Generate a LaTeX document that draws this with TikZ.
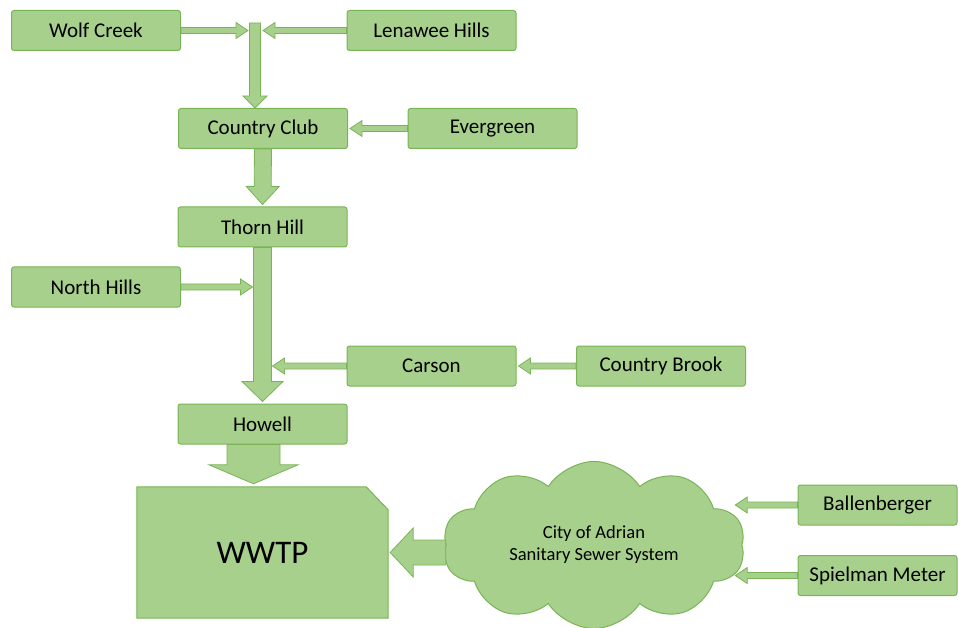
\documentclass[tikz,border=0pt]{standalone}
\usepackage{fontspec}
\setmainfont{Carlito}
\usetikzlibrary{shapes.symbols,backgrounds,calc}

\definecolor{boxfill}{RGB}{168,208,141}
\definecolor{boxline}{RGB}{120,180,85}

% block arrow: from, to, shaft half width, head half width, head length
\newcommand{\flow}[5]{%
  \draw[flowarrow] let \p1=(#1), \p2=(#2),
    \n1={atan2(\y2-\y1,\x2-\x1)}, \n2={veclen(\x2-\x1,\y2-\y1)} in
    {[shift={(\p1)},rotate=\n1]
    (0,#3) -- ({\n2-#5},#3) -- ({\n2-#5},#4) -- (\n2,0)
    -- ({\n2-#5},-#4) -- ({\n2-#5},-#3) -- (0,-#3) -- cycle};}

\begin{document}
\begin{tikzpicture}[
  x=1pt,y=-1pt,
  font=\fontsize{21}{25}\selectfont,
  site/.style={draw=boxline,fill=boxfill,line width=1pt,rounded corners=2.5pt,
               minimum width=169pt,minimum height=40pt,inner sep=0pt},
  flowarrow/.style={draw=boxline,fill=boxfill,line width=0.8pt,line join=miter},
]
\useasboundingbox (0,0) rectangle (958,628);

% ---- metering sites ----
\node[site] (wolf)      at (96,30.5)    {Wolf Creek};
\node[site] (lenawee)   at (431.5,30.5) {Lenawee Hills};
\node[site] (cclub)     at (263,128.5)  {Country Club};
\node[site] (evergreen) at (492.5,128.5){Evergreen};
\node[site] (thorn)     at (262.5,227)  {Thorn Hill};
\node[site] (north)     at (96,287)     {North Hills};
\node[site] (carson)    at (431.5,366)  {Carson};
\node[site] (cbrook)    at (661,366)    {Country Brook};
\node[site] (howell)    at (262.5,424)  {Howell};
\node[site,minimum width=159pt] (ballen) at (877.5,505)   {Ballenberger};
\node[site,minimum width=159pt] (spiel)  at (877.5,575.5) {Spielman Meter};

% ---- city system and the plant ----
\node[cloud,cloud puffs=10,cloud puff arc=115,aspect=1.8,draw=boxline,
      fill=boxfill,line width=1pt,minimum width=302pt,minimum height=166pt,
      align=center,inner sep=0pt,font=\fontsize{18.5}{22}\selectfont]
     (sewer) at (594,545) {City of Adrian\\Sanitary Sewer System};

\node[minimum width=251pt,minimum height=131pt,
      font=\fontsize{33}{40}\selectfont] (wwtp) at (262.5,552.5) {WWTP};
\begin{scope}[on background layer]
  \filldraw[draw=boxline,fill=boxfill,line width=1pt]
    (wwtp.south west) -- (wwtp.north west) -- ([xshift=-22pt]wwtp.north east)
    -- ([yshift=-23pt]wwtp.north east) -- (wwtp.south east) -- cycle;
\end{scope}

% junction points on the trunk line
\coordinate (merge)    at (255,30.5);
\coordinate (mergetop) at (255,23);
\coordinate (trunkL)   at ([xshift=-10pt]thorn.south);
\coordinate (trunkR)   at ([xshift=10pt]thorn.south);
\coordinate (inlet)    at ([xshift=-7pt]sewer.east);

% ---- flows ----
\flow{wolf.east}{[xshift=-7pt]merge}{3}{8}{12}
\flow{lenawee.west}{[xshift=8pt]merge}{3}{8}{12}
\flow{mergetop}{mergetop |- cclub.north}{5.5}{12}{12}
\flow{evergreen.west}{[xshift=2pt]cclub.east}{3}{8}{12}
\flow{cclub.south}{[yshift=2pt]thorn.north}{8.5}{16.5}{18}
\flow{thorn.south}{[yshift=2pt]howell.north}{9}{20.5}{20}
\flow{north.east}{trunkL |- north.east}{3}{8}{12}
\flow{carson.west}{trunkR |- carson.west}{3}{8}{12}
\flow{cbrook.west}{[xshift=2pt]carson.east}{3}{8}{12}
\flow{[xshift=-9pt]howell.south}{[xshift=-9pt,yshift=3pt]wwtp.north}{26.5}{44.5}{19}
\flow{sewer.west |- wwtp.east}{[xshift=2pt]wwtp.east}{12.5}{24.5}{23}
\flow{ballen.west}{inlet |- ballen.west}{3}{8}{12}
\flow{spiel.west}{inlet |- spiel.west}{3}{8}{12}

\end{tikzpicture}
\end{document}
